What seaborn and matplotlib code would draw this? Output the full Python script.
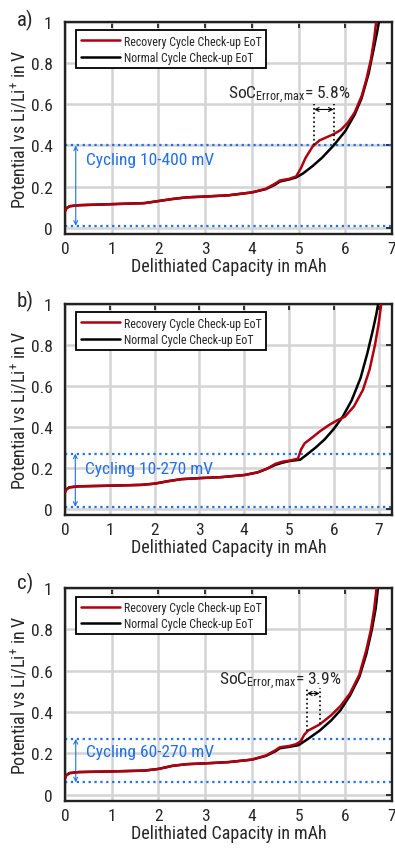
import matplotlib
matplotlib.use("Agg")
import matplotlib.pyplot as plt
from matplotlib import font_manager
import seaborn as sns
import pandas as pd

# ---------------- data ----------------
# Panel a
a_red_x = [0.0, 0.03, 0.1, 0.3, 1.0, 1.7, 2.0, 2.3, 2.6, 3.0, 3.5, 4.0, 4.3, 4.5, 4.6, 4.8, 4.95, 5.05, 5.15, 5.3, 5.45, 5.6, 5.75, 5.9, 6.05, 6.2, 6.35, 6.45, 6.55, 6.62, 6.66]
a_red_y = [0.08, 0.095, 0.105, 0.11, 0.115, 0.12, 0.13, 0.14, 0.148, 0.152, 0.158, 0.172, 0.19, 0.215, 0.23, 0.238, 0.25, 0.29, 0.34, 0.395, 0.425, 0.44, 0.455, 0.475, 0.51, 0.56, 0.64, 0.72, 0.82, 0.92, 1.0]
a_blk_x = [0.0, 0.03, 0.1, 0.3, 1.0, 1.7, 2.0, 2.3, 2.6, 3.0, 3.5, 4.0, 4.3, 4.5, 4.6, 4.8, 4.95, 5.1, 5.3, 5.5, 5.75, 6.0, 6.2, 6.35, 6.5, 6.6, 6.68, 6.72]
a_blk_y = [0.08, 0.095, 0.105, 0.11, 0.115, 0.12, 0.13, 0.14, 0.148, 0.152, 0.158, 0.172, 0.188, 0.21, 0.225, 0.235, 0.245, 0.265, 0.3, 0.34, 0.4, 0.47, 0.55, 0.63, 0.75, 0.86, 0.95, 1.0]

# Panel b
b_red_x = [0.0, 0.03, 0.1, 0.3, 1.0, 1.7, 2.0, 2.3, 2.6, 3.0, 3.5, 4.0, 4.3, 4.5, 4.7, 4.85, 5.0, 5.2, 5.27, 5.35, 5.5, 5.7, 5.9, 6.1, 6.25, 6.45, 6.65, 6.8, 6.92, 7.0, 7.06]
b_red_y = [0.08, 0.095, 0.105, 0.11, 0.113, 0.117, 0.123, 0.135, 0.145, 0.15, 0.155, 0.165, 0.178, 0.195, 0.22, 0.23, 0.235, 0.245, 0.29, 0.32, 0.345, 0.38, 0.41, 0.435, 0.45, 0.5, 0.58, 0.68, 0.8, 0.9, 1.0]
b_blk_x = [0.0, 0.03, 0.1, 0.3, 1.0, 1.7, 2.0, 2.3, 2.6, 3.0, 3.5, 4.0, 4.3, 4.5, 4.7, 4.85, 5.0, 5.25, 5.4, 5.6, 5.8, 6.0, 6.2, 6.4, 6.6, 6.75, 6.87, 6.95, 6.99]
b_blk_y = [0.08, 0.095, 0.105, 0.11, 0.113, 0.117, 0.123, 0.135, 0.145, 0.15, 0.155, 0.165, 0.178, 0.195, 0.215, 0.225, 0.233, 0.24, 0.265, 0.3, 0.34, 0.39, 0.45, 0.53, 0.64, 0.76, 0.87, 0.95, 1.0]

# Panel c
c_red_x = [0.0, 0.03, 0.1, 0.3, 1.0, 1.7, 2.0, 2.3, 2.6, 3.0, 3.5, 4.0, 4.3, 4.5, 4.6, 4.8, 4.95, 5.05, 5.12, 5.2, 5.45, 5.7, 5.9, 6.1, 6.3, 6.45, 6.55, 6.62, 6.67]
c_red_y = [0.08, 0.095, 0.105, 0.11, 0.113, 0.117, 0.125, 0.14, 0.148, 0.152, 0.158, 0.17, 0.19, 0.215, 0.23, 0.236, 0.245, 0.26, 0.29, 0.31, 0.34, 0.385, 0.43, 0.49, 0.58, 0.7, 0.8, 0.9, 1.0]
c_blk_x = [0.0, 0.03, 0.1, 0.3, 1.0, 1.7, 2.0, 2.3, 2.6, 3.0, 3.5, 4.0, 4.3, 4.5, 4.6, 4.8, 5.0, 5.2, 5.45, 5.7, 5.9, 6.1, 6.3, 6.45, 6.57, 6.65, 6.7]
c_blk_y = [0.08, 0.095, 0.105, 0.11, 0.113, 0.117, 0.125, 0.14, 0.148, 0.152, 0.158, 0.17, 0.188, 0.21, 0.225, 0.232, 0.24, 0.27, 0.31, 0.36, 0.41, 0.48, 0.57, 0.68, 0.8, 0.9, 1.0]

panel_labels = ["a)", "b)", "c)"]
cycling_texts = ["Cycling 10-400 mV", "Cycling 10-270 mV", "Cycling 60-270 mV"]
cycling_low = [0.01, 0.01, 0.06]
cycling_high = [0.40, 0.27, 0.27]
cycling_text_y = [0.33, 0.195, 0.21]
xlims = [7.0, 7.3, 7.0]
soc_texts = ["= 5.8%", None, "= 3.9%"]
soc_x = [(5.33, 5.75), None, (5.18, 5.45)]
soc_ybottom = [(0.40, 0.40), None, (0.31, 0.34)]
soc_ytop = [0.60, None, 0.515]
soc_text_pos = [(4.8, 0.65), None, (4.6, 0.555)]

legend_labels = ["Recovery Cycle Check-up EoT", "Normal Cycle Check-up EoT"]

# ---------------- style ----------------
sns.set_style("whitegrid")


def pick_font(cands):
    for c in cands:
        try:
            font_manager.findfont(c, fallback_to_default=False)
            return c
        except Exception:
            pass
    return "DejaVu Sans"


FONT = pick_font(["Roboto Condensed", "Liberation Sans Narrow", "Open Sans Condensed",
                  "Noto Sans Condensed", "Roboto"])
plt.rcParams['font.family'] = [FONT, 'DejaVu Sans']
plt.rcParams['mathtext.fontset'] = 'custom'
plt.rcParams['mathtext.rm'] = FONT
plt.rcParams['mathtext.it'] = FONT

RED = "#b0000f"
BLUE = "#1f6fe6"

fig = plt.figure(figsize=(3.95, 8.53), dpi=100)
positions = [
    (65/395, 1-235/853, 327/395, 212/853),
    (65/395, 1-516/853, 327/395, 211/853),
    (65/395, 1-802/853, 327/395, 213/853),
]
label_y = [20, 301, 583]

data = [
    (a_red_x, a_red_y, a_blk_x, a_blk_y),
    (b_red_x, b_red_y, b_blk_x, b_blk_y),
    (c_red_x, c_red_y, c_blk_x, c_blk_y),
]

for i in range(3):
    ax = fig.add_axes(positions[i])
    rx, ry, bx, by = data[i]
    df_r = pd.DataFrame({"x": rx, "y": ry})
    df_b = pd.DataFrame({"x": bx, "y": by})
    sns.lineplot(data=df_b, x="x", y="y", color="black", lw=1.8, ax=ax,
                 sort=False, estimator=None, zorder=3, label=legend_labels[1])
    sns.lineplot(data=df_r, x="x", y="y", color=RED, lw=1.8, ax=ax,
                 sort=False, estimator=None, zorder=4, label=legend_labels[0])
    ax.set_xlim(0, xlims[i])
    ax.set_ylim(-0.03, 1.0)
    ax.set_xticks(range(0, 8))
    ax.set_yticks([0, 0.2, 0.4, 0.6, 0.8, 1.0])
    ax.set_yticklabels(["0", "0.2", "0.4", "0.6", "0.8", "1"])
    ax.grid(True, color="#d4d4d4", lw=1.8)
    for sp in ax.spines.values():
        sp.set_color("#222222")
        sp.set_linewidth(1.7)
    ax.tick_params(axis="both", direction="in", length=4, width=1.3, labelsize=12.5,
                   top=True, right=True, color="#222222")
    ax.tick_params(axis="y", pad=9)
    ax.tick_params(axis="x", pad=5)
    ax.set_xlabel("Delithiated Capacity in mAh", fontsize=13, labelpad=1)
    ax.set_ylabel("Potential vs Li/Li$^{+}$ in V", fontsize=13, labelpad=1)

    # cycling window
    ax.axhline(cycling_high[i], color=BLUE, ls=":", lw=1.6, zorder=2)
    ax.axhline(cycling_low[i], color=BLUE, ls=":", lw=1.6, zorder=2)
    ax.annotate("", xy=(0.23, cycling_low[i]), xytext=(0.23, cycling_high[i]),
                arrowprops=dict(arrowstyle="<->", color=BLUE, lw=0.8,
                                shrinkA=0, shrinkB=0, mutation_scale=7))
    ax.text(0.45, cycling_text_y[i], cycling_texts[i], color=BLUE, fontsize=12.5,
            va="center", ha="left")

    # SoC error annotation
    if soc_texts[i] is not None:
        x1, x2 = soc_x[i]
        yb1, yb2 = soc_ybottom[i]
        yt = soc_ytop[i]
        ax.plot([x1, x1], [yb1, yt], color="black", ls=":", lw=1.2, zorder=5)
        ax.plot([x2, x2], [yb2, yt], color="black", ls=":", lw=1.2, zorder=5)
        ax.annotate("", xy=(x1, yt - 0.025), xytext=(x2, yt - 0.025),
                    arrowprops=dict(arrowstyle="<->", color="black", lw=0.8,
                                    shrinkA=0, shrinkB=0, mutation_scale=7))
        tx, ty = soc_text_pos[i]
        ax.text(tx, ty, "SoC$_{\\mathregular{Error,max}}$" + soc_texts[i],
                fontsize=12.5, ha="center", va="center")

    handles, labels = ax.get_legend_handles_labels()
    order = [labels.index(l) for l in legend_labels]
    leg = ax.legend([handles[k] for k in order], [labels[k] for k in order],
                    loc="upper left", bbox_to_anchor=(0.035, 0.96), fontsize=8.6,
                    frameon=True, fancybox=False, handlelength=3.3,
                    borderpad=0.35, labelspacing=0.3, handletextpad=0.3,
                    borderaxespad=0)
    leg.get_frame().set_edgecolor("black")
    leg.get_frame().set_linewidth(1.3)
    leg.get_frame().set_alpha(1)

    fig.text(17/395, 1 - label_y[i] / 853, panel_labels[i], fontsize=15,
             ha="left", va="center")

fig.savefig("out.png", dpi=100)
